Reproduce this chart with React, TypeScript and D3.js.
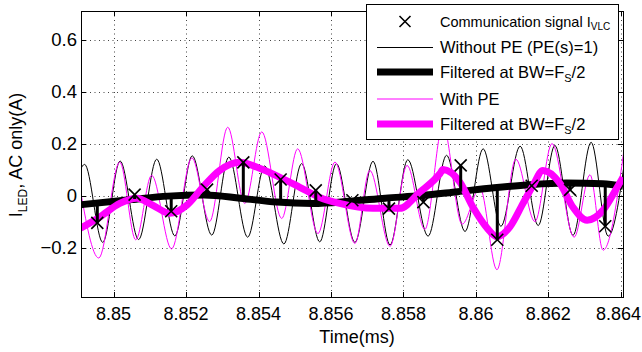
import React, { useEffect, useRef } from 'react';
import * as d3 from 'd3';

// axis ticks
const xTicks = [8.85, 8.852, 8.854, 8.856, 8.858, 8.86, 8.862, 8.864];
const xTickLabels = ['8.85', '8.852', '8.854', '8.856', '8.858', '8.86', '8.862', '8.864'];
const yTicks = [-0.2, 0, 0.2, 0.4, 0.6];
const yTickLabels = ['\u22120.2', '0', '0.2', '0.4', '0.6'];

// Without PE (PE(s)=1): peaks and troughs
const noPeTime = [8.8487, 8.8492, 8.8497, 8.85018, 8.85069, 8.85119, 8.85169, 8.85217, 8.85271, 8.85318,
  8.8537, 8.85417, 8.8547, 8.85519, 8.85569, 8.85615, 8.85666, 8.85716, 8.85763, 8.85812,
  8.85868, 8.85919, 8.8597, 8.8602, 8.86069, 8.86122, 8.86172, 8.86218, 8.86268, 8.86318,
  8.86365, 8.86417];
const noPeValue = [-0.17, 0.12, -0.18, 0.133, -0.169, 0.14, -0.155, 0.153, -0.152, 0.148,
  -0.16, 0.114, -0.186, 0.123, -0.178, 0.123, -0.18, 0.132, -0.19, 0.138,
  -0.156, 0.155, -0.138, 0.18, -0.118, 0.19, -0.115, 0.193, -0.153, 0.205,
  -0.156, 0.2];

// With PE: peaks and troughs
const peTime = [8.84906, 8.84959, 8.85017, 8.85061, 8.85105, 8.8516, 8.85216, 8.85265, 8.85315, 8.85362,
  8.85409, 8.85464, 8.85508, 8.85564, 8.85611, 8.85666, 8.85707, 8.85763, 8.8581, 8.85859,
  8.85909, 8.85962, 8.86011, 8.86058, 8.8611, 8.86163, 8.8621, 8.86271, 8.86315, 8.86351,
  8.86412];
const peValue = [0.04, -0.24, 0.129, -0.17, 0.078, -0.205, 0.145, -0.1, 0.263, -0.03,
  0.245, -0.088, 0.18, -0.146, 0.129, -0.184, 0.097, -0.195, 0.116, -0.13,
  0.27, -0.11, 0.03, -0.285, 0.14, -0.1, 0.2, -0.16, 0.08, -0.21,
  0.21];

// Filtered at BW=Fs/2, without PE
const filtNoPeTime = [8.8491, 8.8505, 8.8515, 8.8525, 8.8535, 8.8545, 8.8555, 8.8565, 8.8575, 8.8585,
  8.8595, 8.8605, 8.8615, 8.8625, 8.8635, 8.86406];
const filtNoPeValue = [-0.035, -0.015, -0.002, 0.002, -0.01, -0.025, -0.03, -0.022, -0.01, 0.0,
  0.015, 0.03, 0.042, 0.048, 0.046, 0.036];

// Filtered at BW=Fs/2, with PE
const filtPeTime = [8.84909, 8.84961, 8.85017, 8.85064, 8.85108, 8.85155, 8.85202, 8.85246, 8.85293, 8.85348,
  8.85403, 8.85459, 8.85514, 8.85569, 8.85624, 8.85716, 8.8579, 8.85845, 8.85901, 8.85909,
  8.85956, 8.85992, 8.86031, 8.86058, 8.86094, 8.8613, 8.86158, 8.86185, 8.86232, 8.86268,
  8.86307, 8.86351, 8.8639, 8.86406];
const filtPeValue = [-0.125, -0.083, -0.03, -0.01, -0.037, -0.068, -0.037, 0.032, 0.097, 0.128,
  0.105, 0.07, 0.032, -0.007, -0.03, -0.049, -0.049, 0.013, 0.085, 0.1,
  0.051, -0.045, -0.125, -0.158, -0.12, -0.03, 0.04, 0.097, 0.047, -0.045,
  -0.095, -0.056, 0.032, 0.07];

// Communication signal I_VLC samples, and where each stem meets the filtered line
const sampleTime = [8.84955, 8.85058, 8.85159, 8.85258, 8.85358, 8.85461, 8.85558, 8.85659, 8.8576, 8.85855,
  8.85958, 8.86059, 8.86154, 8.8626, 8.86357];
const sampleValue = [-0.105, 0.004, -0.06, 0.023, 0.128, 0.062, 0.02, -0.018, -0.05, -0.025,
  0.116, -0.17, 0.038, 0.022, -0.118];
const sampleBase = [-0.033, -0.013, -0.003, 0.002, -0.01, -0.025, -0.03, -0.023, -0.01, 0.0,
  0.015, 0.03, 0.042, 0.048, 0.046];

const FONT = 'Liberation Sans, Arial, Helvetica, sans-serif';

function App() {
  const ref = useRef(null);

  useEffect(() => {
    const svg = d3.select(ref.current);
    svg.selectAll('*').remove();

    const margin = { left: 81, top: 11, right: 623, bottom: 297 };

    const x = d3.scaleLinear().domain([8.8491, 8.86406]).range([margin.left, margin.right]);
    const y = d3.scaleLinear().domain([-0.39, 0.71]).range([margin.bottom, margin.top]);

    svg.append('rect').attr('width', 642).attr('height', 352).attr('fill', '#fff');

    svg.append('clipPath').attr('id', 'plot-clip')
      .append('rect')
      .attr('x', margin.left).attr('y', margin.top)
      .attr('width', margin.right - margin.left).attr('height', margin.bottom - margin.top);

    // dotted grid
    const grid = svg.append('g').attr('stroke', '#444').attr('stroke-width', 1).attr('stroke-dasharray', '1,3.5');
    grid.selectAll('.gx').data(xTicks).enter().append('line')
      .attr('x1', d => Math.round(x(d)) + 0.5).attr('x2', d => Math.round(x(d)) + 0.5)
      .attr('y1', margin.top).attr('y2', margin.bottom);
    grid.selectAll('.gy').data(yTicks).enter().append('line')
      .attr('y1', d => Math.round(y(d)) + 0.5).attr('y2', d => Math.round(y(d)) + 0.5)
      .attr('x1', margin.left).attr('x2', margin.right);

    const plot = svg.append('g').attr('clip-path', 'url(#plot-clip)');

    const line = d3.line<[number, number]>()
      .x(d => x(d[0]))
      .y(d => y(d[1]))
      .curve(d3.curveMonotoneX);

    const zip = (ts: number[], vs: number[]) => ts.map((t, i) => [t, vs[i]] as [number, number]);

    plot.append('path').attr('d', line(zip(noPeTime, noPeValue)))
      .attr('fill', 'none').attr('stroke', '#000').attr('stroke-width', 1);
    plot.append('path').attr('d', line(zip(peTime, peValue)))
      .attr('fill', 'none').attr('stroke', '#ff00ff').attr('stroke-width', 1);
    plot.append('path').attr('d', line(zip(filtNoPeTime, filtNoPeValue)))
      .attr('fill', 'none').attr('stroke', '#000').attr('stroke-width', 7);
    plot.append('path').attr('d', line(zip(filtPeTime, filtPeValue)))
      .attr('fill', 'none').attr('stroke', '#ff00ff').attr('stroke-width', 7);

    // stems
    plot.selectAll('.stem').data(sampleTime).enter().append('line')
      .attr('x1', d => x(d)).attr('x2', d => x(d))
      .attr('y1', (d, i) => y(sampleValue[i])).attr('y2', (d, i) => y(sampleBase[i]))
      .attr('stroke', '#000').attr('stroke-width', 3);

    // X markers
    const cross = (cx: number, cy: number, r: number) =>
      `M${cx - r},${cy - r}L${cx + r},${cy + r}M${cx - r},${cy + r}L${cx + r},${cy - r}`;
    plot.selectAll('.mark').data(sampleTime).enter().append('path')
      .attr('d', (d, i) => cross(x(d), y(sampleValue[i]), 6))
      .attr('fill', 'none').attr('stroke', '#000').attr('stroke-width', 1.6);

    // axes box and ticks
    const axes = svg.append('g').attr('stroke', '#000').attr('stroke-width', 1).attr('fill', 'none');
    axes.append('rect')
      .attr('x', margin.left + 0.5).attr('y', margin.top + 0.5)
      .attr('width', margin.right - margin.left).attr('height', margin.bottom - margin.top);
    xTicks.forEach(t => {
      const px = Math.round(x(t)) + 0.5;
      axes.append('line').attr('x1', px).attr('x2', px).attr('y1', margin.bottom).attr('y2', margin.bottom - 5);
      axes.append('line').attr('x1', px).attr('x2', px).attr('y1', margin.top).attr('y2', margin.top + 5);
    });
    yTicks.forEach(t => {
      const py = Math.round(y(t)) + 0.5;
      axes.append('line').attr('y1', py).attr('y2', py).attr('x1', margin.left).attr('x2', margin.left + 5);
      axes.append('line').attr('y1', py).attr('y2', py).attr('x1', margin.right).attr('x2', margin.right - 5);
    });

    // tick labels (kept inside the 642px page)
    svg.selectAll('.xl').data(xTicks).enter().append('text')
      .attr('x', d => x(d)).attr('y', 320)
      .attr('text-anchor', 'middle')
      .style('font-family', FONT).style('font-size', '18px')
      .text((d, i) => xTickLabels[i])
      .each(function (d) {
        const w = (this as SVGTextElement).getComputedTextLength();
        if (x(d) + w / 2 > 641) d3.select(this).attr('x', 641 - w / 2);
      });
    svg.selectAll('.yl').data(yTicks).enter().append('text')
      .attr('x', 77).attr('y', d => y(d) + 6.4)
      .attr('text-anchor', 'end')
      .style('font-family', FONT).style('font-size', '18.5px')
      .text((d, i) => yTickLabels[i]);

    // axis titles
    svg.append('text')
      .attr('x', 357).attr('y', 343)
      .attr('text-anchor', 'middle')
      .style('font-family', FONT).style('font-size', '18px')
      .text('Time(ms)');

    const yl = svg.append('text')
      .attr('transform', 'translate(22,155) rotate(-90)')
      .attr('text-anchor', 'middle')
      .style('font-family', FONT).style('font-size', '18px');
    yl.append('tspan').text('I');
    yl.append('tspan').attr('dy', 5).style('font-size', '12px').text('LED');
    yl.append('tspan').attr('dy', -5).text(', AC only(A)');

    // legend
    const lg = svg.append('g');
    lg.append('rect').attr('x', 366.5).attr('y', 4.5).attr('width', 252).attr('height', 135)
      .attr('fill', '#fff').attr('stroke', '#000').attr('stroke-width', 1);

    lg.append('path').attr('d', cross(405, 21.5, 5.5))
      .attr('fill', 'none').attr('stroke', '#000').attr('stroke-width', 1.6);

    const t1 = lg.append('text').attr('x', 440).attr('y', 27)
      .style('font-family', FONT).style('font-size', '14.5px');
    t1.append('tspan').text('Communication signal I');
    t1.append('tspan').attr('dy', 3).style('font-size', '10px').text('VLC');

    const samples = [
      { y: 47.5, color: '#000', w: 1, label: 'Without PE (PE(s)=1)', sub: false },
      { y: 72, color: '#000', w: 7, label: 'Filtered at BW=F', sub: true },
      { y: 99, color: '#ff00ff', w: 1, label: 'With PE', sub: false },
      { y: 124, color: '#ff00ff', w: 7, label: 'Filtered at BW=F', sub: true },
    ];
    samples.forEach(s => {
      lg.append('line').attr('x1', 377).attr('x2', 433).attr('y1', s.y).attr('y2', s.y)
        .attr('stroke', s.color).attr('stroke-width', s.w);
      const tx = lg.append('text').attr('x', 440).attr('y', s.y + 5.8)
        .style('font-family', FONT).style('font-size', '16.5px');
      tx.append('tspan').text(s.label);
      if (s.sub) {
        tx.append('tspan').attr('dy', 4).style('font-size', '11px').text('S');
        tx.append('tspan').attr('dy', -4).text('/2');
      }
    });
  }, []);

  return (
    <svg ref={ref} width={642} height={352}
      style={{ position: 'absolute', left: 0, top: 0, display: 'block' }} />
  );
}

export default App;
